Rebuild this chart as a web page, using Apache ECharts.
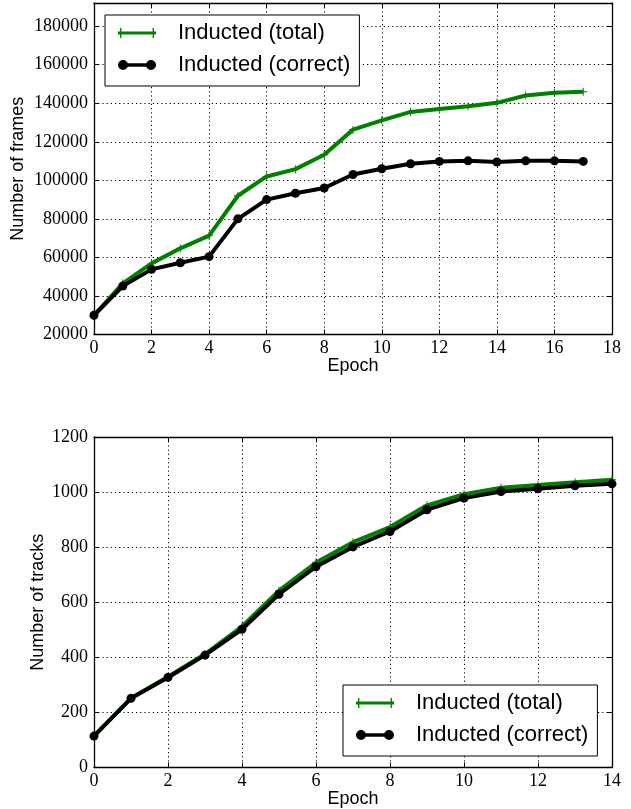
<!DOCTYPE html>
<html><head><meta charset="utf-8">
<script src="https://cdn.jsdelivr.net/npm/echarts@6/dist/echarts.min.js"></script>
<style>html,body{margin:0;padding:0;background:#fff}#c{width:631px;height:809px}</style>
</head><body><div id="c"></div><script>
// ---- data ----
const seriesNames = ['Inducted (total)', 'Inducted (correct)'];
const epochsFrames = [0,1,2,3,4,5,6,7,8,9,10,11,12,13,14,15,16,17];
const framesTotal = [30000,46500,56900,64700,71300,92000,102000,105800,113300,126300,131100,135500,137000,138400,140200,144000,145400,146000];
const framesCorrect = [30000,45100,53800,57200,60400,80000,90000,93300,96000,103000,106000,108600,109800,110100,109500,110100,110100,109800];
const epochsTracks = [0,1,2,3,4,5,6,7,8,9,10,11,12,13,14];
const tracksTotal = [115,252,330,412,512,642,744,818,873,952,992,1016,1026,1036,1045];
const tracksCorrect = [114,251,327,408,502,629,729,801,857,936,978,1002,1012,1023,1030];
const framesXTicks = {min:0, max:18, interval:2};
const framesYTicks = {min:20000, max:192000, interval:20000};
const tracksXTicks = {min:0, max:14, interval:2};
const tracksYTicks = {min:0, max:1200, interval:200};

const pairs = (xs, ys) => xs.map((x, i) => [x, ys[i]]);
const GREEN = '#008000', BLACK = '#000000';
const serif = 'Liberation Serif';
const sans = 'Liberation Sans';
const plusSym = 'path://M0,4.4 L10,4.4 L10,5.6 L0,5.6 Z M4.4,0 L5.6,0 L5.6,10 L4.4,10 Z';
const iconTotal = 'path://M0,3.4 L38,3.4 L38,6.6 L0,6.6 Z M2,0 L3.4,0 L3.4,10 L2,10 Z M34.6,0 L36,0 L36,10 L34.6,10 Z';
const iconCorrect = 'path://M0,5 A5,5 0 1,1 10,5 A5,5 0 1,1 0,5 Z M28,5 A5,5 0 1,1 38,5 A5,5 0 1,1 28,5 Z M5,3.2 L33,3.2 L33,6.8 L5,6.8 Z';

const axisLine = {show:true, onZero:false, lineStyle:{color:'#000', width:1.3}};
const tick = {show:true, inside:true, length:5, lineStyle:{color:'#000', width:1}};
const grid = {show:true, lineStyle:{color:'#000', width:1, type:[1.2,3]}};
const lab = {color:'#000', fontFamily:serif, fontSize:18, formatter: v => String(v)};

function xAx(gi, t, name, primary) {
  return Object.assign({type:'value', gridIndex:gi, position: primary?'bottom':'top'}, t, {
    axisLine, axisTick:tick,
    axisLabel: primary ? Object.assign({margin:5}, lab) : {show:false},
    splitLine: primary ? grid : {show:false},
    name: primary ? name : '', nameLocation:'middle', nameGap:23, nameMoveOverlap:false,
    nameTextStyle:{color:'#000', fontFamily:sans, fontSize:18}
  });
}
function yAx(gi, t, name, primary, gap) {
  return Object.assign({type:'value', gridIndex:gi, position: primary?'left':'right'}, t, {
    axisLine, axisTick:tick,
    axisLabel: primary ? Object.assign({margin:6, showMaxLabel: t.max % t.interval === 0}, lab) : {show:false},
    splitLine: primary ? grid : {show:false},
    name: primary ? name : '', nameLocation:'middle', nameRotate:90, nameGap:gap, nameMoveOverlap:false,
    nameTextStyle:{color:'#000', fontFamily:sans, fontSize:18}
  });
}
function legend(left, top) {
  return {
    left, top, orient:'vertical', itemWidth:38, itemHeight:10, itemGap:10,
    padding:[7,9,10,13], backgroundColor:'#fff', borderColor:'#000', borderWidth:1, borderRadius:0,
    textStyle:{color:'#000', fontFamily:sans, fontSize:22, padding:[0,0,0,17]},
    itemStyle:{borderWidth:0},
    data:[{name:seriesNames[0], icon:iconTotal}, {name:seriesNames[1], icon:iconCorrect}],
    selectedMode:false
  };
}
function lineS(name, xi, yi, data, isTotal) {
  return {
    name, type:'line', xAxisIndex:xi, yAxisIndex:yi, data,
    color: isTotal ? GREEN : BLACK,
    lineStyle:{width:4, color: isTotal ? GREEN : BLACK},
    symbol: isTotal ? plusSym : 'circle',
    symbolSize: isTotal ? 8 : 9,
    itemStyle:{color: isTotal ? GREEN : BLACK, borderWidth:0},
    showSymbol:true, silent:true, z: isTotal ? 2 : 3
  };
}

const option = {
  animation:false,
  backgroundColor:'#fff',
  grid:[
    {left:94, top:3, width:518, height:331.5, containLabel:false, outerBoundsMode:'none'},
    {left:94, top:437, width:518, height:330.5, containLabel:false, outerBoundsMode:'none'}
  ],
  xAxis:[
    xAx(0, framesXTicks, 'Epoch', true),
    xAx(0, framesXTicks, '', false),
    xAx(1, tracksXTicks, 'Epoch', true),
    xAx(1, tracksXTicks, '', false)
  ],
  yAxis:[
    yAx(0, framesYTicks, 'Number of frames', true, 67),
    yAx(0, framesYTicks, '', false, 0),
    yAx(1, tracksYTicks, 'Number of tracks', true, 47),
    yAx(1, tracksYTicks, '', false, 0)
  ],
  legend:[legend(105, 15), legend(343, 685)],
  series:[
    lineS(seriesNames[0], 0, 0, pairs(epochsFrames, framesTotal), true),
    lineS(seriesNames[1], 0, 0, pairs(epochsFrames, framesCorrect), false),
    lineS(seriesNames[0], 2, 2, pairs(epochsTracks, tracksTotal), true),
    lineS(seriesNames[1], 2, 2, pairs(epochsTracks, tracksCorrect), false)
  ]
};
const chart = echarts.init(document.getElementById('c'), null, {renderer:'canvas'});
chart.setOption(option);
</script></body></html>
